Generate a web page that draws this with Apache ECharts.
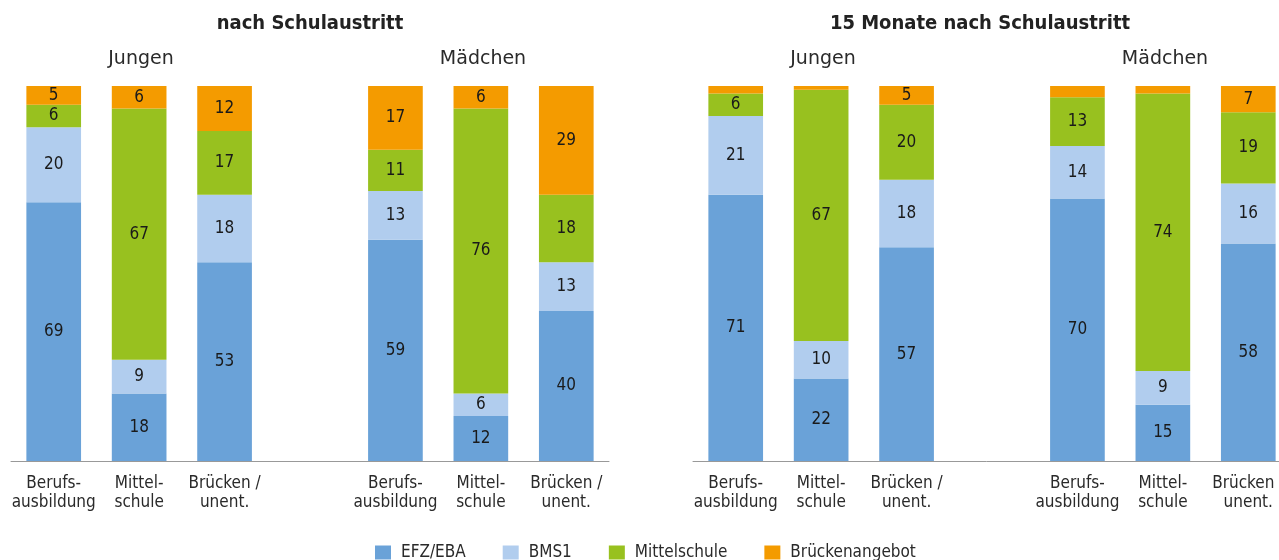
<!DOCTYPE html>
<html>
<head>
<meta charset="utf-8">
<script src="https://cdn.jsdelivr.net/npm/echarts@6/dist/echarts.min.js"></script>
<style>
  html, body { margin: 0; padding: 0; background: #fff; }
  #main { width: 1279px; height: 560px; }
</style>
</head>
<body>
<div id="main"></div>
<script>
// categories (gap in the middle separates Jungen / Mädchen)
var categories = ['Berufs-\nausbildung', 'Mittel-\nschule', 'Brücken /\nunent.', '',
                  'Berufs-\nausbildung', 'Mittel-\nschule', 'Brücken /\nunent.'];
var seriesNames = ['EFZ/EBA', 'BMS1', 'Mittelschule', 'Brückenangebot'];
var colors = ['#6aa2d8', '#b1cdee', '#98c11f', '#f49b00'];

// nach Schulaustritt
var efzNach = [69, 18, 53, null, 59, 12, 40];
var bmsNach = [20, 9, 18, null, 13, 6, 13];
var mittelNach = [6, 67, 17, null, 11, 76, 18];
var brueckeNach = [5, 6, 12, null, 17, 6, 29];

// 15 Monate nach Schulaustritt
var efz15 = [71, 22, 57, null, 70, 15, 58];
var bms15 = [21, 10, 18, null, 14, 9, 16];
var mittel15 = [6, 67, 20, null, 13, 74, 19];
var bruecke15 = [2, 1, 5, null, 3, 2, 7];

var fontFam = '"DejaVu Sans Condensed", "Liberation Sans Narrow", "DejaVu Sans", sans-serif';
var wideFam = '"DejaVu Sans", sans-serif';

function makeSeries(idx, dataSets) {
    return seriesNames.map(function (name, i) {
        return {
            name: name,
            type: 'bar',
            stack: 'p' + idx,
            xAxisIndex: idx,
            yAxisIndex: idx,
            barCategoryGap: '36%',
            itemStyle: { color: colors[i] },
            label: {
                show: true,
                position: 'inside',
                color: '#1a1a1a',
                fontSize: 17,
                fontFamily: fontFam,
                formatter: function (p) { return p.value >= 4 ? p.value : ''; }
            },
            data: dataSets[i]
        };
    });
}

function xAxis(idx) {
    return {
        type: 'category',
        gridIndex: idx,
        data: categories,
        axisLine: { lineStyle: { color: '#999', width: 1 } },
        axisTick: { length: 5, lineStyle: { color: '#999' } },
        axisLabel: {
            color: '#2a2a2a',
            fontSize: 17,
            lineHeight: 19,
            margin: 13,
            fontFamily: fontFam,
            interval: 0
        }
    };
}

function yAxis(idx) {
    return { type: 'value', gridIndex: idx, min: 0, max: 100, show: false };
}

var head = { fontFamily: wideFam, color: '#2a2a2a', fontWeight: 'normal', fontSize: 19 };
var bigHead = { fontFamily: fontFam, color: '#222', fontWeight: 'bold', fontSize: 20 };

var option = {
    animation: false,
    title: [
        { text: 'nach Schulaustritt', left: 305, top: 9, textAlign: 'center', textStyle: bigHead },
        { text: '15 Monate nach Schulaustritt', left: 975, top: 9, textAlign: 'center', textStyle: bigHead },
        { text: 'Jungen', left: 136, top: 45, textAlign: 'center', textStyle: head },
        { text: 'Mädchen', left: 478, top: 45, textAlign: 'center', textStyle: head },
        { text: 'Jungen', left: 818, top: 45, textAlign: 'center', textStyle: head },
        { text: 'Mädchen', left: 1160, top: 45, textAlign: 'center', textStyle: head }
    ],
    legend: {
        data: seriesNames,
        left: 370,
        top: 539,
        itemWidth: 16,
        itemHeight: 14,
        itemGap: 37,
        icon: 'rect',
        textStyle: { fontFamily: fontFam, fontSize: 17, color: '#2a2a2a', padding: [0, 0, 0, 5] }
    },
    grid: [
        { left: 11, width: 598, top: 86, height: 375, outerBoundsMode: 'none' },
        { left: 693, width: 598, top: 86, height: 375, outerBoundsMode: 'none' }
    ],
    xAxis: [xAxis(0), xAxis(1)],
    yAxis: [yAxis(0), yAxis(1)],
    series: makeSeries(0, [efzNach, bmsNach, mittelNach, brueckeNach])
        .concat(makeSeries(1, [efz15, bms15, mittel15, bruecke15]))
};

var chart = echarts.init(document.getElementById('main'));
chart.setOption(option);
</script>
</body>
</html>
